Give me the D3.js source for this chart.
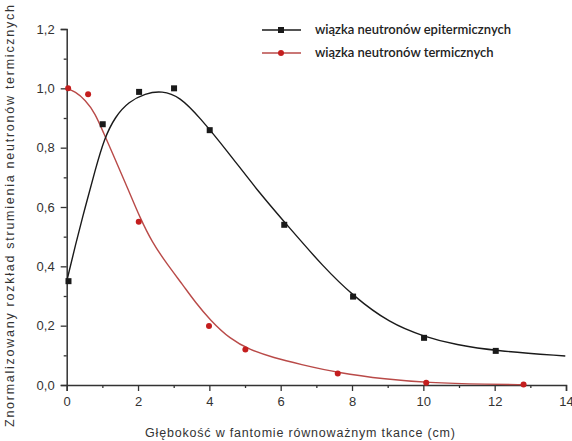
<!DOCTYPE html>
<html>
<head>
<meta charset="utf-8">
<script src="https://cdn.jsdelivr.net/npm/d3@7"></script>
<style>
  body { margin: 0; background: #fff; }
  svg { display: block; }
</style>
</head>
<body>
<svg id="chart" width="572" height="441"></svg>
<script>
// Measured points
const epiX = [0.05, 1.01, 2.03, 3.01, 4.01, 6.1, 8.03, 10.02, 12.03];
const epiY = [0.35, 0.879, 0.988, 1.0, 0.859, 0.54, 0.298, 0.159, 0.115];
const thermX = [0.04, 0.6, 2.02, 3.99, 5.01, 7.6, 10.08, 12.81];
const thermY = [1.0, 0.98, 0.55, 0.199, 0.12, 0.039, 0.008, 0.002];

// Fit curves
const epiFitX = [0.01, 0.24, 0.52, 0.8, 1.05, 1.36, 1.74, 2.2, 2.67, 3.17, 3.73, 4.48, 5.41, 6.26, 7.19, 8.03, 9.06, 10.02, 10.92, 12.02, 13.98];
const epiFitY = [0.354, 0.47, 0.6, 0.725, 0.83, 0.905, 0.955, 0.983, 0.992, 0.972, 0.902, 0.792, 0.646, 0.528, 0.399, 0.3, 0.208, 0.163, 0.135, 0.115, 0.098];
const thermFitX = [0.0, 0.24, 0.52, 0.8, 1.05, 1.27, 1.74, 2.05, 2.4, 2.8, 3.27, 3.6, 4.02, 4.58, 5.14, 5.8, 6.54, 7.6, 8.96, 10.08, 11.86, 12.81];
const thermFitY = [1.0, 0.989, 0.961, 0.916, 0.845, 0.785, 0.655, 0.565, 0.48, 0.41, 0.335, 0.28, 0.219, 0.155, 0.118, 0.092, 0.07, 0.041, 0.019, 0.008, 0.002, 0.001];

// Axis ticks
const xTicks = [0, 2, 4, 6, 8, 10, 12, 14];
const xMinor = [1, 3, 5, 7, 9, 11, 13];
const yTicks = [0, 0.2, 0.4, 0.6, 0.8, 1.0, 1.2];
const yMinor = [0.1, 0.3, 0.5, 0.7, 0.9, 1.1];

const seriesNames = ["wiązka neutronów epitermicznych", "wiązka neutronów termicznych"];

const black = "#1a1a1a";
const red = "#c41e1e";
const redLine = "#b94a48";
const axisColor = "#333";

const svg = d3.select("#chart");

const x = d3.scaleLinear().domain([0, 14]).range([66.7, 566]);
const y = d3.scaleLinear().domain([0, 1.2]).range([385, 29]);

const fmt = (d) => d3.format(".1f")(d).replace(".", ",");

// Axes
const gx = svg.append("g").attr("transform", `translate(0,${y(0)})`);
gx.call(d3.axisBottom(x).tickValues(xTicks).tickSize(6).tickPadding(6).tickFormat(d3.format("d")));
const gxm = svg.append("g").attr("transform", `translate(0,${y(0)})`);
gxm.call(d3.axisBottom(x).tickValues(xMinor).tickSize(3).tickFormat(""));

const gy = svg.append("g").attr("transform", `translate(${x(0)},0)`);
gy.call(d3.axisLeft(y).tickValues(yTicks).tickSize(6).tickPadding(6).tickFormat(fmt));
const gym = svg.append("g").attr("transform", `translate(${x(0)},0)`);
gym.call(d3.axisLeft(y).tickValues(yMinor).tickSize(3).tickFormat(""));

[gx, gxm, gy, gym].forEach((g) => {
    g.selectAll(".domain").attr("stroke", axisColor).attr("stroke-width", 1.5);
    g.selectAll(".tick line").attr("stroke", axisColor).attr("stroke-width", 1.3);
    g.selectAll("text")
        .attr("fill", "#333")
        .style("font-family", "'Liberation Sans', Arial, sans-serif")
        .style("font-size", "13px");
});
gym.select(".domain").remove();
gxm.select(".domain").remove();

// Axis titles
svg.append("text")
    .attr("x", 300)
    .attr("y", 437)
    .attr("text-anchor", "middle")
    .attr("fill", "#333")
    .attr("textLength", 310)
    .style("font-family", "'Liberation Sans', Arial, sans-serif")
    .style("font-size", "12.5px")
    .text("Głębokość w fantomie równoważnym tkance (cm)");

svg.append("text")
    .attr("transform", "translate(14,216) rotate(-90)")
    .attr("text-anchor", "middle")
    .attr("fill", "#333")
    .attr("textLength", 422)
    .style("font-family", "'Liberation Sans', Arial, sans-serif")
    .style("font-size", "12.5px")
    .text("Znormalizowany rozkład strumienia neutronów termicznych");

// Fit lines (basis smooths out reading noise)
const line = d3.line()
    .x((d) => x(d[0]))
    .y((d) => y(d[1]))
    .curve(d3.curveBasis);

svg.append("path")
    .datum(d3.zip(thermFitX, thermFitY))
    .attr("d", line)
    .attr("fill", "none")
    .attr("stroke", redLine)
    .attr("stroke-width", 1.4);

svg.append("path")
    .datum(d3.zip(epiFitX, epiFitY))
    .attr("d", line)
    .attr("fill", "none")
    .attr("stroke", black)
    .attr("stroke-width", 1.4);

// Markers
svg.append("g")
    .selectAll("rect")
    .data(d3.zip(epiX, epiY))
    .enter()
    .append("rect")
    .attr("x", (d) => x(d[0]) - 3)
    .attr("y", (d) => y(d[1]) - 3)
    .attr("width", 6)
    .attr("height", 6)
    .attr("fill", black);

svg.append("g")
    .selectAll("circle")
    .data(d3.zip(thermX, thermY))
    .enter()
    .append("circle")
    .attr("cx", (d) => x(d[0]))
    .attr("cy", (d) => y(d[1]))
    .attr("r", 3)
    .attr("fill", red);

// Legend
const legend = svg.append("g");
[
    { name: seriesNames[0], color: black, lineColor: black, shape: "square", yPos: 30 },
    { name: seriesNames[1], color: red, lineColor: redLine, shape: "circle", yPos: 53 }
].forEach((item) => {
    legend.append("line")
        .attr("x1", 262).attr("x2", 301)
        .attr("y1", item.yPos).attr("y2", item.yPos)
        .attr("stroke", item.lineColor)
        .attr("stroke-width", 1.4);
    if (item.shape === "square") {
        legend.append("rect")
            .attr("x", 278).attr("y", item.yPos - 3)
            .attr("width", 6).attr("height", 6)
            .attr("fill", item.color);
    } else {
        legend.append("circle")
            .attr("cx", 281).attr("cy", item.yPos)
            .attr("r", 3)
            .attr("fill", item.color);
    }
    legend.append("text")
        .attr("x", 315)
        .attr("y", item.yPos + 4)
        .attr("fill", "#222")
        .style("font-family", "Lato, 'Open Sans', sans-serif")
        .style("font-size", "13px")
        .style("font-weight", 600)
        .text(item.name);
});
</script>
</body>
</html>
